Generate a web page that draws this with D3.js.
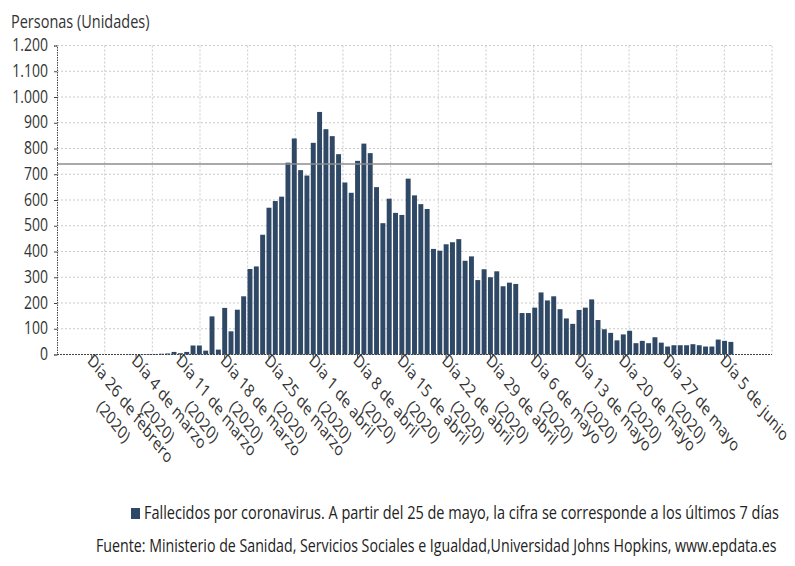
<!DOCTYPE html>
<html><head><meta charset="utf-8">
<script src="https://cdn.jsdelivr.net/npm/d3@7"></script>
<style>
body{margin:0;background:#fff}
svg{display:block}
text{font-family:'Open Sans',sans-serif}
</style>
</head><body>
<svg id="c" width="795" height="566"></svg>
<script>
// ---------- data ----------
const startDate = "2020-02-21";   // first day on the axis
const endDate = "2020-06-13";     // axis end (exclusive)
// daily deaths from 21 Feb 2020 to 6 Jun 2020
const deaths = [
  0,0,0,0,0,0,0,0,0,                       // 21-29 feb
  0,0,1,0,1,2,2,3,4,                       // 1-9 mar
  10,5,10,35,35,15,148,19,181,90,174,226,332,342,465,570,596,613,745,839,716,695, // 10-31 mar
  822,942,875,848,778,668,628,752,819,782,650,510,605,550,542,683,618,584,565,410,403,428,436,448,364,381,289,331,300,323, // abr
  265,279,274,161,161,182,241,210,226,176,140,119,173,182,214,134,98,84,55,78,92,44,53,44,67,46,31,36,36,36,40, // may
  36,31,31,58,53,49                          // 1-6 jun
];
const referenceValue = 740;
const yTicks = [0,100,200,300,400,500,600,700,800,900,1000,1100,1200];
const xTickDates = ["2020-02-26","2020-03-04","2020-03-11","2020-03-18","2020-03-25","2020-04-01","2020-04-08",
  "2020-04-15","2020-04-22","2020-04-29","2020-05-06","2020-05-13","2020-05-20","2020-05-27","2020-06-05"];
const xTickLine1 = ["Día 26 de febrero","Día 4 de marzo","Día 11 de marzo","Día 18 de marzo","Día 25 de marzo",
  "Día 1 de abril","Día 8 de abril","Día 15 de abril","Día 22 de abril","Día 29 de abril","Día 6 de mayo",
  "Día 13 de mayo","Día 20 de mayo","Día 27 de mayo","Día 5 de junio"];
const xTickLine2 = ["(2020)","(2020)","(2020)","(2020)","(2020)","(2020)","(2020)","(2020)","(2020)","(2020)",
  "(2020)","(2020)","(2020)","(2020)",""];
const yTitle = "Personas (Unidades)";
const legendText = "Fallecidos por coronavirus. A partir del 25 de mayo, la cifra se corresponde a los últimos 7 días";
const sourceText = "Fuente: Ministerio de Sanidad, Servicios Sociales e Igualdad,Universidad Johns Hopkins, www.epdata.es";

// ---------- layout ----------
const W = 795, H = 566;
const M = {left:57, right:23, top:45.5, bottom:211.5};
const barColor = "#2f4866";
const stretch = 1.28;             // glyphs in the picture are vertically stretched
const parse = d3.utcParse("%Y-%m-%d");
const fmtKey = d3.utcFormat("%Y-%m-%d");

const days = d3.utcDay.range(parse(startDate), parse(endDate)).map(fmtKey);
const data = deaths.map((v,i)=>({day: days[i], value: v}));

const svg = d3.select("#c");
svg.append("rect").attr("width",W).attr("height",H).attr("fill","#fff");

const x = d3.scaleBand().domain(days).range([M.left, W - M.right]).paddingInner(0.22).paddingOuter(0.11);
const y = d3.scaleLinear().domain([0,1200]).range([H - M.bottom, M.top]);
const locale = d3.formatLocale({decimal:",", thousands:".", grouping:[3], currency:["","€"]});
const fmt = locale.format(",");

// grid
const g = svg.append("g");
g.selectAll("line.h").data(yTicks.filter(d=>d>0)).join("line")
  .attr("x1", M.left).attr("x2", W - M.right)
  .attr("y1", d=>y(d)).attr("y2", d=>y(d))
  .attr("stroke","#c9c9c9").attr("stroke-width",1).attr("stroke-dasharray","2,2");
const gx = d3.scaleLinear().domain([0,15]).range([M.left, W - M.right]);
g.selectAll("line.v").data(d3.range(1,16)).join("line")
  .attr("x1", d=>gx(d)).attr("x2", d=>gx(d))
  .attr("y1", M.top).attr("y2", y(0))
  .attr("stroke","#c9c9c9").attr("stroke-width",1).attr("stroke-dasharray","2,2");

// bars
svg.append("g").selectAll("rect").data(data.filter(d=>d.value>0)).join("rect")
  .attr("x", d=>x(d.day)).attr("width", x.bandwidth())
  .attr("y", d=>y(d.value)).attr("height", d=>y(0)-y(d.value))
  .attr("fill", barColor);

// reference line
svg.append("line")
  .attr("x1", M.left).attr("x2", W - M.right)
  .attr("y1", y(referenceValue)).attr("y2", y(referenceValue))
  .attr("stroke","#8c8c8c").attr("stroke-width",1.6);

// y axis
const ya = svg.append("g").attr("transform",`translate(${M.left},0)`)
  .call(d3.axisLeft(y).tickValues(yTicks).tickFormat(fmt).tickSize(3).tickPadding(6));
ya.select(".domain").attr("stroke","#444").attr("stroke-dasharray","1.5,1");
ya.selectAll(".tick line").attr("stroke","#444");
ya.selectAll("text").attr("font-size",14).attr("fill","#333").attr("dy",null).attr("y",null)
  .attr("x",null).attr("transform",`translate(-9,5.2) scale(1,${stretch})`)
  .style("font-family","'Open Sans',sans-serif");

// x axis baseline
svg.append("line").attr("x1",M.left).attr("x2",W-M.right).attr("y1",y(0)).attr("y2",y(0))
  .attr("stroke","#444").attr("stroke-width",1.2).attr("stroke-dasharray","2,1");
const xa = svg.append("g");
const ticks = xa.selectAll("g").data(xTickDates.map((d,i)=>({d, l1:xTickLine1[i], l2:xTickLine2[i]}))).join("g")
  .attr("transform", t=>`translate(${x(t.d)+x.bandwidth()/2},${y(0)})`);
ticks.append("line").attr("y1",0).attr("y2",4).attr("stroke","#444");
const lab = ticks.append("text").attr("transform",`translate(-5,7) scale(1,${stretch}) rotate(45)`)
  .attr("font-size",14).attr("fill","#333");
lab.append("tspan").attr("x",0).attr("y",0).text(t=>t.l1);
lab.append("tspan").attr("x",32).attr("y",19).text(t=>t.l2);

// y title
svg.append("text").attr("transform",`translate(11,28) scale(1,${stretch})`).attr("font-size",14.5).attr("fill","#333").text(yTitle);

// legend
svg.append("rect").attr("x",131).attr("y",508).attr("width",9).attr("height",11).attr("fill",barColor);
svg.append("text").attr("transform",`translate(144,519) scale(1,${stretch})`).attr("font-size",14.5).attr("fill","#222").text(legendText);
svg.append("text").attr("transform",`translate(96,552) scale(1,${stretch})`).attr("font-size",14.2).attr("fill","#222").text(sourceText);
</script>
</body></html>
